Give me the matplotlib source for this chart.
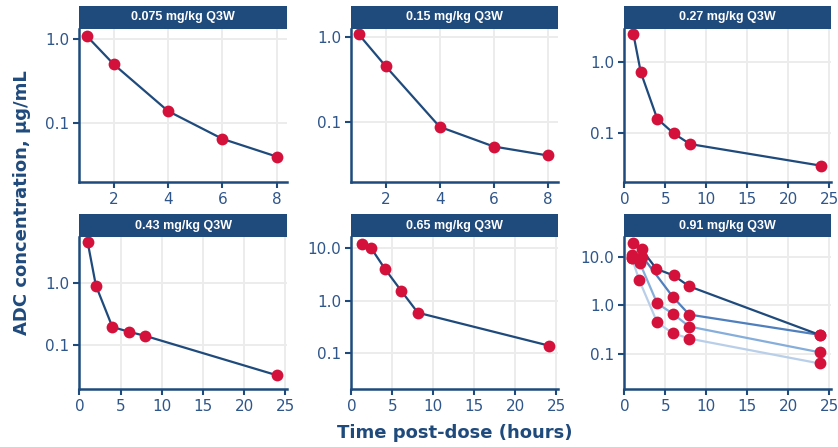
import matplotlib
matplotlib.use("Agg")
import matplotlib.pyplot as plt
from matplotlib.patches import Rectangle
from matplotlib.ticker import FixedLocator, FixedFormatter

plt.rcParams["font.family"] = ["Liberation Sans", "DejaVu Sans"]

NAVY = "#1f4a7c"
TICK_TXT = "#2f568a"
RED = "#d3113a"
GRID = "#ececec"

# panel titles
titles = ["0.075 mg/kg Q3W", "0.15 mg/kg Q3W", "0.27 mg/kg Q3W",
          "0.43 mg/kg Q3W", "0.65 mg/kg Q3W", "0.91 mg/kg Q3W"]

# single-subject cohorts: time (h), concentration (ug/mL)
t_075 = [1, 2, 4, 6, 8]
c_075 = [1.09, 0.50, 0.139, 0.065, 0.040]
t_015 = [1, 2, 4, 6, 8]
c_015 = [1.07, 0.45, 0.087, 0.051, 0.040]
t_027 = [1.1, 2, 4, 6, 8, 24]
c_027 = [2.5, 0.72, 0.158, 0.098, 0.069, 0.034]
t_043 = [1, 2, 4, 6, 8, 24]
c_043 = [4.45, 0.90, 0.196, 0.164, 0.141, 0.033]
t_065 = [1.25, 2.4, 4.1, 6.1, 8.1, 24.1]
c_065 = [12.1, 10.2, 4.05, 1.53, 0.59, 0.138]

# 0.91 mg/kg cohort: four subjects
t_091_a = [1.1, 2.1, 3.9, 6.0, 7.9, 23.8]
c_091_a = [18.6, 14.0, 5.6, 4.1, 2.46, 0.25]
t_091_b = [0.9, 2.2, 5.9, 7.9, 23.8]
c_091_b = [10.8, 10.0, 1.5, 0.65, 0.25]
t_091_c = [0.9, 1.9, 4.0, 5.9, 7.9, 23.8]
c_091_c = [9.3, 7.3, 1.1, 0.68, 0.37, 0.11]
t_091_d = [0.9, 1.8, 4.0, 5.9, 7.9, 23.8]
c_091_d = [9.5, 3.3, 0.45, 0.27, 0.21, 0.065]

panels = [
    [(t_075, c_075, NAVY)],
    [(t_015, c_015, NAVY)],
    [(t_027, c_027, NAVY)],
    [(t_043, c_043, NAVY)],
    [(t_065, c_065, NAVY)],
    [(t_091_d, c_091_d, "#b9cfe9"), (t_091_c, c_091_c, "#86aedb"),
     (t_091_b, c_091_b, "#4f7fbd"), (t_091_a, c_091_a, NAVY)],
]

xlims = [(0.72, 8.38), (0.72, 8.38)] + [(-0.05, 25.2)] * 4
xticks = [[2, 4, 6, 8], [2, 4, 6, 8]] + [[0, 5, 10, 15, 20, 25]] * 4
ylims = [(10 ** -1.70, 10 ** 0.119), (10 ** -1.71, 10 ** 0.09),
         (10 ** -1.70, 10 ** 0.473), (10 ** -1.70, 10 ** 0.73),
         (10 ** -1.69, 10 ** 1.22), (10 ** -1.71, 10 ** 1.40)]
yticks = [[0.1, 1.0], [0.1, 1.0], [0.1, 1.0], [0.1, 1.0],
          [0.1, 1.0, 10.0], [0.1, 1.0, 10.0]]

W, H = 838, 447
fig = plt.figure(figsize=(W / 100, H / 100), dpi=100)

col_px = [(79, 287), (351, 558), (624, 831)]
row_px = [(29, 182), (237, 389)]
strip_px = 23

for i in range(6):
    r, c = divmod(i, 3)
    x0, x1 = col_px[c]
    y0, y1 = row_px[r]
    ax = fig.add_axes([x0 / W, 1 - y1 / H, (x1 - x0) / W, (y1 - y0) / H])
    ax.set_yscale("log")
    for t, conc, col in panels[i]:
        ax.plot(t, conc, color=col, lw=1.6, zorder=2)
    for t, conc, col in panels[i]:
        ax.plot(t, conc, ls="none", marker="o", ms=8.5, color=RED,
                markeredgewidth=0, zorder=3)
    ax.set_xlim(*xlims[i])
    ax.set_ylim(*ylims[i])
    ax.xaxis.set_major_locator(FixedLocator(xticks[i]))
    ax.yaxis.set_major_locator(FixedLocator(yticks[i]))
    ax.yaxis.set_major_formatter(FixedFormatter([f"{v:.1f}" for v in yticks[i]]))
    ax.yaxis.set_minor_locator(FixedLocator([]))
    ax.grid(True, color=GRID, lw=1.4, zorder=0)
    ax.set_axisbelow(True)
    for s in ["top", "right"]:
        ax.spines[s].set_visible(False)
    for s in ["left", "bottom"]:
        ax.spines[s].set_color(NAVY)
        ax.spines[s].set_linewidth(1.8)
    ax.tick_params(colors=NAVY, width=1.5, length=4.5, labelcolor=TICK_TXT,
                   pad=2.5)
    for lab in ax.get_xticklabels() + ax.get_yticklabels():
        lab.set_fontfamily("DejaVu Sans")
        lab.set_fontsize(11)
    sh = strip_px / (y1 - y0)
    ax.add_patch(Rectangle((0, 1), 1, sh, transform=ax.transAxes,
                           facecolor=NAVY, edgecolor="none", clip_on=False))
    ax.text(0.5, 1 + sh / 2, titles[i], transform=ax.transAxes, ha="center",
            va="center", color="white", fontsize=9, fontweight="bold")

fig.text(22 / W, 1 - 203 / H, "ADC concentration, µg/mL", rotation=90,
         ha="center", va="center", color=NAVY, fontsize=13,
         fontweight="bold", family="DejaVu Sans")
fig.text(455 / W, 1 - 433 / H, "Time post-dose (hours)", ha="center",
         va="center", color=NAVY, fontsize=13, fontweight="bold",
         family="DejaVu Sans")

fig.savefig("out.png", dpi=100)
